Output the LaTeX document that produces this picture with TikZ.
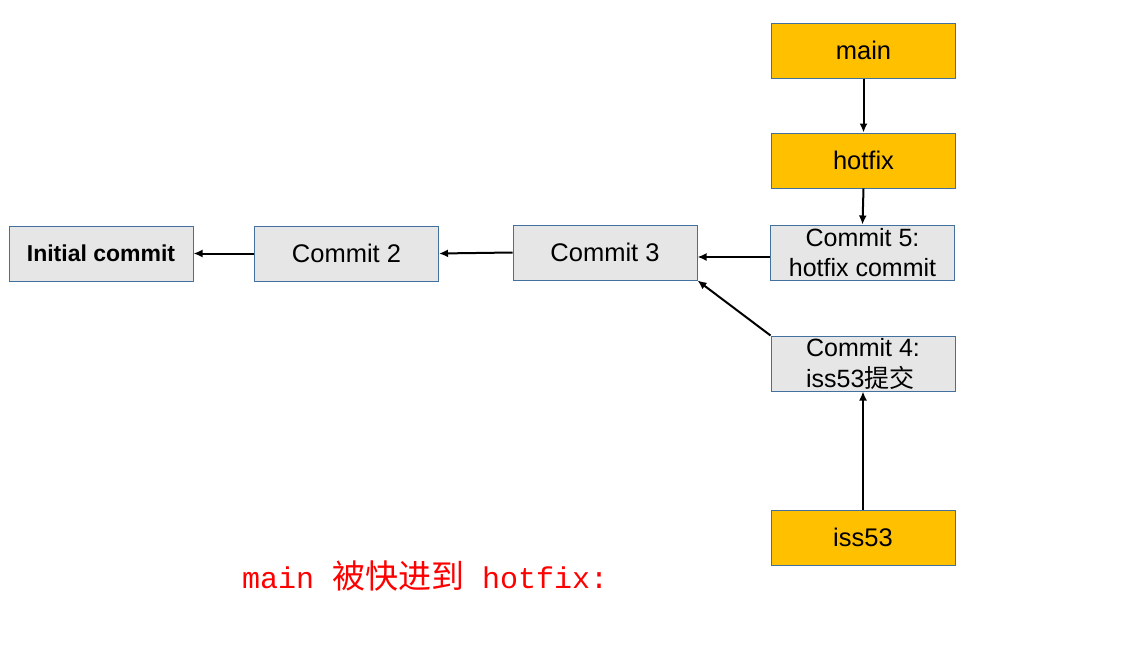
\documentclass[tikz,border=0pt]{standalone}
\usepackage{fontspec}
\setmainfont{Liberation Sans}
\newfontfamily\cjk{Noto Sans CJK SC}
\newfontfamily\redmono{Liberation Mono}
\usetikzlibrary{arrows.meta}
\definecolor{boxblue}{HTML}{41719C}
\definecolor{commitgray}{HTML}{E7E6E6}
\definecolor{branchorange}{HTML}{FFC000}
\begin{document}
\begin{tikzpicture}[x=1pt,y=-1pt,
  box/.style={draw=boxblue, line width=1pt, minimum width=184pt, minimum height=55pt,
    inner sep=0pt, font=\fontsize{25.5}{30}\selectfont, text=black},
  commit/.style={box, fill=commitgray},
  branch/.style={box, fill=branchorange},
  link/.style={line width=2pt, -{Latex[length=9pt,width=8pt]}}]
\useasboundingbox (0,0) rectangle (1132,656);
\node[commit, font=\bfseries\fontsize{23}{26}\selectfont] (c1) at (101,253.5) {Initial commit};
\node[commit] (c2) at (346.5,253.5) {Commit 2};
\node[commit] (c3) at (605,252.5) {Commit 3};
\node[commit, align=center, inner ysep=-1pt, font=\fontsize{25}{30}\selectfont] (c5) at (862.5,252.5) {Commit 5:\\hotfix commit};
\node[commit, align=left, inner ysep=-1pt, font=\fontsize{25}{31}\selectfont] (c4) at (863,363.5) {Commit 4:\\iss53{\cjk 提交}};
\node[branch] (main) at (863.5,50.5) {main};
\node[branch] (hotfix) at (863.5,160.5) {hotfix};
\node[branch] (iss53) at (863,537.5) {iss53};
\draw[link] (c2.west) -- (c1.east);
\draw[link] (c3.west) -- (c2.east);
\draw[link] ([yshift=-4.5pt]c5.west) -- ([yshift=-4.5pt]c3.east);
\draw[link] (c4.north west) -- (c3.south east);
\draw[link] (main) -- (hotfix);
\draw[link] (hotfix.south) -- (c5.north);
\draw[link] (iss53) -- (c4);
\node[anchor=base west, inner sep=0pt, text=red] (caption) at (242,588)
  {\redmono\fontsize{30}{34}\selectfont main {\cjk\fontsize{33}{34}\selectfont 被快进到} hotfix:};
\end{tikzpicture}
\end{document}
